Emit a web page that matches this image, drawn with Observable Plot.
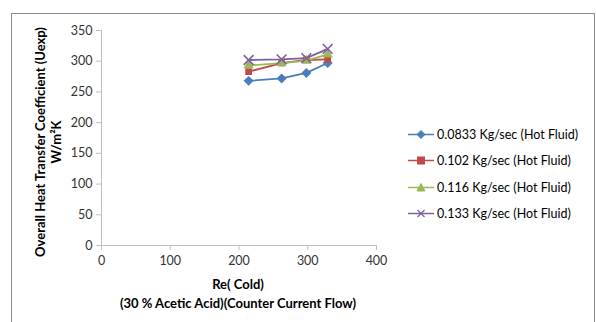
<!DOCTYPE html>
<html><head><meta charset="utf-8">
<script src="https://cdn.jsdelivr.net/npm/d3@7"></script>
<script src="https://cdn.jsdelivr.net/npm/@observablehq/plot@0.6"></script>
<style>
body{margin:0;background:#fff;font-family:Lato,"Liberation Sans",sans-serif;color:#000}
#wrap{position:relative;width:596px;height:322px;overflow:hidden;background:#fff}
#frame{position:absolute;left:11px;top:13px;width:584px;height:340px;border:1.5px solid #8c8c8c;box-sizing:border-box}
#chart{position:absolute;left:0;top:0}
.ytitle{position:absolute;left:48px;top:142px;transform:translate(-50%,-50%) rotate(-90deg);white-space:nowrap;text-align:center;font-weight:bold;font-size:13px;line-height:16px}
.xtitle{position:absolute;left:238px;top:275px;transform:translateX(-50%);white-space:nowrap;text-align:center;font-weight:bold;font-size:13px;line-height:19px}
#legend{position:absolute;left:408px;top:121px;font-size:12.5px}
.li{height:26.5px;display:flex;align-items:center;white-space:nowrap}
.li svg{margin-right:3px}
</style></head>
<body>
<div id="wrap">
<div id="frame"></div>
<div id="chart"></div>
<div class="ytitle">Overall Heat Transfer Coefficient (Uexp)<br>W/m²K</div>
<div class="xtitle">Re( Cold)<br>(30 % Acetic Acid)(Counter Current Flow)</div>
<div id="legend"></div>
</div>
<script>
const reCold = [214, 262, 298, 329];
const seriesNames = ["0.0833 Kg/sec (Hot Fluid)", "0.102 Kg/sec (Hot Fluid)", "0.116 Kg/sec (Hot Fluid)", "0.133 Kg/sec (Hot Fluid)"];
const u0833 = [268, 272, 281, 297];
const u102 = [283, 297, 302, 303];
const u116 = [293, 297, 301, 311];
const u133 = [302, 303, 305, 320];
const xTicks = [0, 100, 200, 300, 400];
const yTicks = [0, 50, 100, 150, 200, 250, 300, 350];

const colors = ["#4a7ebb", "#be4b48", "#98b954", "#7d60a0"];
const symbols = ["diamond2", "square", "triangle", "times"];
const allValues = [u0833, u102, u116, u133];

const rows = [];
allValues.forEach((vals, si) => vals.forEach((v, i) => rows.push({series: seriesNames[si], x: reCold[i], y: v})));

const dotMarks = seriesNames.map((s, si) => {
  const d = rows.filter(r => r.series === s);
  if (symbols[si] === "times") {
    return Plot.dot(d, {x: "x", y: "y", symbol: "times", r: 4.5, stroke: colors[si], strokeWidth: 1.6});
  }
  return Plot.dot(d, {x: "x", y: "y", symbol: symbols[si], r: symbols[si] === "diamond2" ? 4.5 : 3.8, fill: colors[si], stroke: "none"});
});
const lineMarks = seriesNames.map((s, si) =>
  Plot.line(rows.filter(r => r.series === s), {x: "x", y: "y", stroke: colors[si], strokeWidth: 1.8}));

const chart = Plot.plot({
  width: 596, height: 322,
  marginLeft: 101, marginRight: 220, marginTop: 30, marginBottom: 77,
  style: {fontFamily: "Lato, 'Liberation Sans', sans-serif", fontSize: "12.5px", background: "transparent", color: "#000"},
  x: {domain: [0, 400], axis: null},
  y: {domain: [0, 350], axis: null},
  marks: [
    Plot.ruleX([0], {stroke: "#bfbfbf", strokeWidth: 1}),
    Plot.ruleY([0], {stroke: "#bfbfbf", strokeWidth: 1}),
    Plot.axisY(yTicks, {tickSize: 5, stroke: "#bfbfbf", tickPadding: 4, fill: "#333", label: null}),
    Plot.axisX(xTicks, {tickSize: 5, stroke: "#bfbfbf", tickPadding: 6, fill: "#333", label: null}),
    ...lineMarks,
    ...dotMarks
  ]
});
document.getElementById("chart").appendChild(chart);

const leg = document.getElementById("legend");
const symSvg = ["<path d='M13,0.5 L17,4.5 L13,8.5 L9,4.5Z'/>", "<rect x='9.5' y='1' width='7' height='7'/>", "<path d='M13,0.5 L17,8 L9,8Z'/>", "<path d='M9.5,1 L16.5,8 M16.5,1 L9.5,8' fill='none' stroke-width='1.2'/>"];
seriesNames.forEach((s, i) => {
  const div = document.createElement("div");
  div.className = "li";
  div.innerHTML = `<svg width="26" height="9"><line x1="0" y1="4.5" x2="26" y2="4.5" stroke="${colors[i]}" stroke-width="1.5"/><g fill="${colors[i]}" stroke="${colors[i]}">${symSvg[i]}</g></svg><span>${s}</span>`;
  leg.appendChild(div);
});
</script>
</body></html>
